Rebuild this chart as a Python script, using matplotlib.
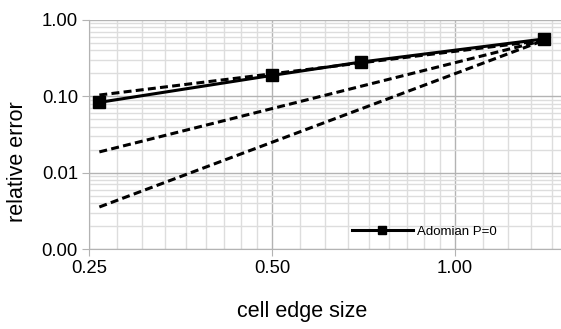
import matplotlib
matplotlib.use("Agg")
import matplotlib.pyplot as plt
import numpy as np
from matplotlib.ticker import FixedLocator, FixedFormatter, NullFormatter

plt.rcParams['font.family'] = ['Liberation Sans', 'DejaVu Sans']

# Data
edge_size = [0.26, 0.5, 0.70, 1.4]
adomian_p0 = [0.0834, 0.188, 0.281, 0.564]

ref_x = [0.26, 1.4]
order1 = [0.104, 0.54]
order2 = [0.0187, 0.54]
order3 = [0.00355, 0.54]

x_ticks = [0.25, 0.5, 1.0]
x_tick_labels = ["0.25", "0.50", "1.00"]
y_ticks = [0.001, 0.01, 0.1, 1.0]
y_tick_labels = ["0.00", "0.01", "0.10", "1.00"]

fig = plt.figure(figsize=(5.61, 3.29), dpi=100)
ax = fig.add_axes([89 / 561, 1 - 249 / 329, 472 / 561, 229 / 329])

ax.set_xscale('log', base=2)
ax.set_yscale('log')
ax.set_xlim(0.25, 1.495)
ax.set_ylim(0.001, 1.0)

# minor grid: 8 lines between majors
x_minor = [m * (1 + k / 9) for m in [0.25, 0.5, 1.0] for k in range(1, 9)]
x_minor = [v for v in x_minor if v < 1.5]
y_minor = [m * k for m in [0.001, 0.01, 0.1] for k in range(2, 10)]

ax.xaxis.set_major_locator(FixedLocator(x_ticks))
ax.xaxis.set_major_formatter(FixedFormatter(x_tick_labels))
ax.xaxis.set_minor_locator(FixedLocator(x_minor))
ax.xaxis.set_minor_formatter(NullFormatter())
ax.yaxis.set_major_locator(FixedLocator(y_ticks))
ax.yaxis.set_major_formatter(FixedFormatter(y_tick_labels))
ax.yaxis.set_minor_locator(FixedLocator(y_minor))
ax.yaxis.set_minor_formatter(NullFormatter())

ax.grid(True, which='major', color='#b3b3b3', linewidth=1.0)
ax.grid(True, which='minor', color='#dddddd', linewidth=1.0)
ax.set_axisbelow(True)

ax.tick_params(which='major', length=5, color='#b3b3b3', labelsize=13.3, pad=3)
ax.tick_params(which='minor', length=0)
for s in ['top', 'right']:
    ax.spines[s].set_visible(False)
for s in ['left', 'bottom']:
    ax.spines[s].set_color('#b3b3b3')

dash = (0, (2.6, 1.4))
ax.plot(ref_x, order1, color='black', linewidth=2.2, linestyle=dash)
ax.plot(ref_x, order2, color='black', linewidth=2.2, linestyle=dash)
ax.plot(ref_x, order3, color='black', linewidth=2.2, linestyle=dash)
ax.plot(edge_size, adomian_p0, color='black', linewidth=2.2, marker='s',
        markersize=8, label='Adomian P=0', zorder=5)

leg = ax.legend(loc='center left', bbox_to_anchor=(0.557, 0.0755), frameon=False,
                fontsize=9.5, handlelength=4.6, handletextpad=0.35, borderpad=0,
                borderaxespad=0, markerscale=0.75)

fig.text(0.538, 0.052, "cell edge size", ha='center', va='center', fontsize=15.5)
fig.text(0.032, 0.51, "relative error", ha='center', va='center', fontsize=15.5,
         rotation=90)

fig.savefig("out.png", dpi=100)
